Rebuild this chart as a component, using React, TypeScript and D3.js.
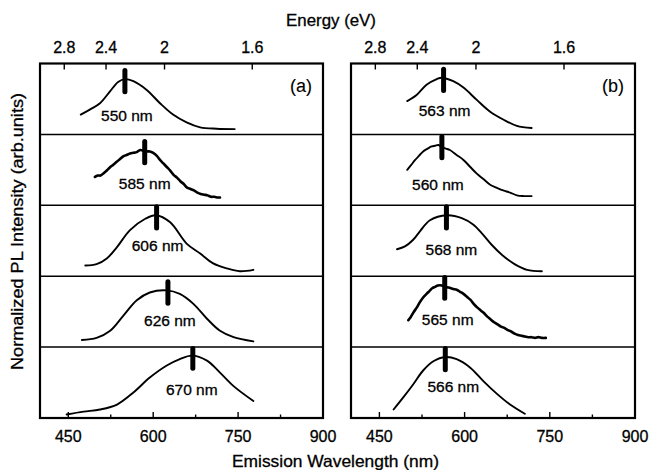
import React, { useRef, useEffect } from 'react';
import * as d3 from 'd3';

type Pt = [number, number];

// peak wavelengths (nm), top row to bottom row
const peaksA = [550, 585, 606, 626, 670];
const peaksB = [563, 560, 568, 565, 566];

// spectra: [wavelength (nm), normalized intensity]
const specA1: Pt[] = [[472, 0.28], [488, 0.35], [506, 0.44], [524, 0.61], [538, 0.74], [550, 0.78], [565, 0.75], [588, 0.63], [612, 0.44], [635, 0.28], [659, 0.17], [683, 0.10], [712, 0.08], [744, 0.075]];
const specA2: Pt[] = [[497, 0.40], [502, 0.42], [507, 0.42], [512, 0.45], [518, 0.49], [523, 0.53], [529, 0.57], [535, 0.61], [541, 0.65], [547, 0.69], [553, 0.71], [559, 0.73], [565, 0.74], [571, 0.75], [577, 0.78], [582, 0.77], [588, 0.76], [594, 0.76], [600, 0.74], [606, 0.70], [612, 0.64], [618, 0.59], [624, 0.54], [630, 0.49], [636, 0.43], [642, 0.39], [648, 0.34], [654, 0.30], [660, 0.25], [666, 0.23], [672, 0.21], [678, 0.18], [684, 0.16], [690, 0.15], [696, 0.14], [702, 0.12], [708, 0.12], [714, 0.11], [718, 0.11]];
const specA3: Pt[] = [[480, 0.15], [500, 0.17], [518, 0.25], [536, 0.41], [559, 0.65], [586, 0.81], [605, 0.86], [630, 0.76], [659, 0.46], [683, 0.32], [706, 0.18], [730, 0.11], [753, 0.07], [777, 0.09]];
const specA4: Pt[] = [[474, 0.10], [500, 0.13], [524, 0.23], [547, 0.44], [571, 0.66], [594, 0.77], [624, 0.80], [647, 0.75], [671, 0.61], [695, 0.40], [718, 0.23], [742, 0.14], [777, 0.08]];
const specA5: Pt[] = [[447, 0.05], [477, 0.09], [506, 0.12], [536, 0.19], [565, 0.36], [594, 0.57], [624, 0.74], [647, 0.83], [668, 0.88], [695, 0.81], [718, 0.64], [742, 0.45], [777, 0.24]];

const specB1: Pt[] = [[499, 0.47], [516, 0.56], [533, 0.70], [551, 0.78], [560, 0.80], [580, 0.75], [598, 0.66], [621, 0.49], [645, 0.32], [668, 0.21], [692, 0.12], [718, 0.09]];
const specB2: Pt[] = [[499, 0.50], [506, 0.57], [513, 0.64], [520, 0.70], [527, 0.76], [535, 0.80], [542, 0.83], [548, 0.84], [554, 0.85], [560, 0.82], [567, 0.80], [574, 0.78], [586, 0.71], [598, 0.64], [610, 0.54], [621, 0.45], [633, 0.37], [645, 0.29], [656, 0.25], [668, 0.21], [680, 0.18], [692, 0.14], [705, 0.13], [718, 0.13]];
const specB3: Pt[] = [[481, 0.38], [495, 0.42], [509, 0.51], [522, 0.64], [539, 0.79], [569, 0.86], [595, 0.82], [615, 0.73], [632, 0.59], [648, 0.44], [666, 0.30], [688, 0.17], [710, 0.09], [736, 0.07]];
const specB4: Pt[] = [[501, 0.38], [505, 0.42], [510, 0.49], [516, 0.56], [521, 0.63], [527, 0.70], [533, 0.75], [538, 0.79], [543, 0.83], [548, 0.85], [553, 0.87], [560, 0.87], [566, 0.85], [572, 0.84], [580, 0.82], [586, 0.81], [592, 0.78], [598, 0.75], [604, 0.71], [610, 0.67], [616, 0.61], [622, 0.56], [628, 0.52], [634, 0.48], [640, 0.43], [646, 0.39], [652, 0.35], [658, 0.32], [664, 0.29], [670, 0.27], [676, 0.24], [682, 0.22], [688, 0.19], [694, 0.17], [700, 0.16], [706, 0.15], [712, 0.14], [718, 0.14], [724, 0.13], [730, 0.14], [736, 0.13], [743, 0.13]];
const specB5: Pt[] = [[475, 0.12], [492, 0.29], [510, 0.48], [527, 0.67], [545, 0.80], [566, 0.86], [586, 0.83], [610, 0.71], [633, 0.52], [657, 0.34], [680, 0.19], [706, 0.06]];

const spectraA = [specA1, specA2, specA3, specA4, specA5];
const spectraB = [specB1, specB2, specB3, specB4, specB5];

const energyTicks = [2.8, 2.4, 2, 1.6];
const wlTicks = [450, 600, 750, 900];
const wlMinorTicks = [525, 675, 825];

// label placement: [dx px from peak, height as fraction of row]
const labelPosA: Pt[] = [[2, 0.27], [0, 0.31], [1, 0.44], [2, 0.37], [-1, 0.40]];
const labelPosB: Pt[] = [[1, 0.34], [-4, 0.30], [5, 0.38], [3, 0.39], [8, 0.44]];

const W = 652;
const H = 470;
const top = 63.5;
const bottom = 418;
const FONT = 'Liberation Sans, Arial, Helvetica, sans-serif';

export default function App() {
  const svgRef = useRef<SVGSVGElement>(null);

  useEffect(() => {
    if (!svgRef.current) return;
    const svg = d3.select(svgRef.current);
    svg.selectAll('*').remove();

    const panels = [
      { left: 40, right: 323, peaks: peaksA, spectra: spectraA, labelPos: labelPosA, tag: '(a)' },
      { left: 351, right: 635, peaks: peaksB, spectra: spectraB, labelPos: labelPosB, tag: '(b)' },
    ];

    const rowH = (bottom - top) / 5;

    // scanned-print look: slightly heavier text
    const txt = (sel: d3.Selection<SVGTextElement, unknown, null, undefined>, size: number) =>
      sel.style('font-family', FONT)
        .style('font-size', `${size}px`)
        .attr('fill', '#000')
        .attr('stroke', '#000')
        .attr('stroke-width', 0.3);

    panels.forEach(p => {
      const x = d3.scaleLinear().domain([400, 900]).range([p.left, p.right]);
      const g = svg.append('g');

      // rows
      p.spectra.forEach((spec, i) => {
        const y = d3.scaleLinear().domain([0, 1]).range([top + (i + 1) * rowH, top + i * rowH]);
        const line = d3.line<Pt>().x(d => x(d[0])).y(d => y(d[1])).curve(d3.curveCatmullRom);
        const noisy = spec.length > 30;
        g.append('path')
          .attr('d', line(spec))
          .attr('fill', 'none')
          .attr('stroke', '#000')
          .attr('stroke-width', noisy ? 2.6 : 1.9)
          .attr('stroke-linejoin', 'round')
          .attr('stroke-linecap', 'round');

        const peakI = d3.max(spec, d => d[1]) || 0.8;
        g.append('line')
          .attr('x1', x(p.peaks[i])).attr('x2', x(p.peaks[i]))
          .attr('y1', y(Math.min(peakI + 0.12, 0.98)))
          .attr('y2', y(peakI - 0.18))
          .attr('stroke', '#000')
          .attr('stroke-width', 5)
          .attr('stroke-linecap', 'round');

        const [dx, lvl] = p.labelPos[i];
        txt(g.append('text'), 15.5)
          .attr('x', x(p.peaks[i]) + dx)
          .attr('y', y(lvl) + 5.5)
          .attr('text-anchor', 'middle')
          .text(`${p.peaks[i]} nm`);

        if (i > 0) {
          g.append('line')
            .attr('x1', p.left).attr('x2', p.right)
            .attr('y1', top + i * rowH).attr('y2', top + i * rowH)
            .attr('stroke', '#000')
            .attr('stroke-width', 1.5);
        }
      });

      // frame
      g.append('rect')
        .attr('x', p.left).attr('y', top)
        .attr('width', p.right - p.left).attr('height', bottom - top)
        .attr('fill', 'none')
        .attr('stroke', '#000')
        .attr('stroke-width', 2.2);

      // top energy axis (ticks inward)
      energyTicks.forEach(e => {
        const xe = x(1240 / e);
        g.append('line')
          .attr('x1', xe).attr('x2', xe)
          .attr('y1', top).attr('y2', top + 6)
          .attr('stroke', '#000').attr('stroke-width', 1.4);
        txt(g.append('text'), 16)
          .attr('x', xe).attr('y', 53)
          .attr('text-anchor', 'middle')
          .text(String(e));
      });

      // bottom wavelength axis
      wlTicks.forEach(w => {
        if (w < 900) {
          g.append('line')
            .attr('x1', x(w)).attr('x2', x(w))
            .attr('y1', bottom).attr('y2', bottom - 6)
            .attr('stroke', '#000').attr('stroke-width', 1.4);
        }
        txt(g.append('text'), 16)
          .attr('x', x(w)).attr('y', 442)
          .attr('text-anchor', 'middle')
          .text(String(w));
      });
      wlMinorTicks.forEach(w => {
        g.append('line')
          .attr('x1', x(w)).attr('x2', x(w))
          .attr('y1', bottom).attr('y2', bottom - 3.5)
          .attr('stroke', '#000').attr('stroke-width', 1.4);
      });

      txt(g.append('text'), 18)
        .attr('x', p.right - 11).attr('y', 92)
        .attr('text-anchor', 'end')
        .attr('stroke-width', 0.1)
        .text(p.tag);
    });

    // axis titles
    txt(svg.append('text'), 16.5)
      .attr('x', 331).attr('y', 26)
      .attr('text-anchor', 'middle')
      .attr('textLength', 90)
      .attr('lengthAdjust', 'spacingAndGlyphs')
      .text('Energy (eV)');

    txt(svg.append('text'), 16.5)
      .attr('x', 335.5).attr('y', 466.5)
      .attr('text-anchor', 'middle')
      .attr('textLength', 207)
      .attr('lengthAdjust', 'spacingAndGlyphs')
      .text('Emission Wavelength (nm)');

    txt(svg.append('text'), 16)
      .attr('transform', 'translate(23,231.5) rotate(-90)')
      .attr('text-anchor', 'middle')
      .attr('textLength', 277)
      .attr('lengthAdjust', 'spacingAndGlyphs')
      .text('Normalized PL Intensity (arb.units)');
  }, []);

  return (
    <svg
      ref={svgRef}
      width={W}
      height={H}
      style={{ position: 'absolute', left: 0, top: 0, background: '#fff' }}
    />
  );
}
